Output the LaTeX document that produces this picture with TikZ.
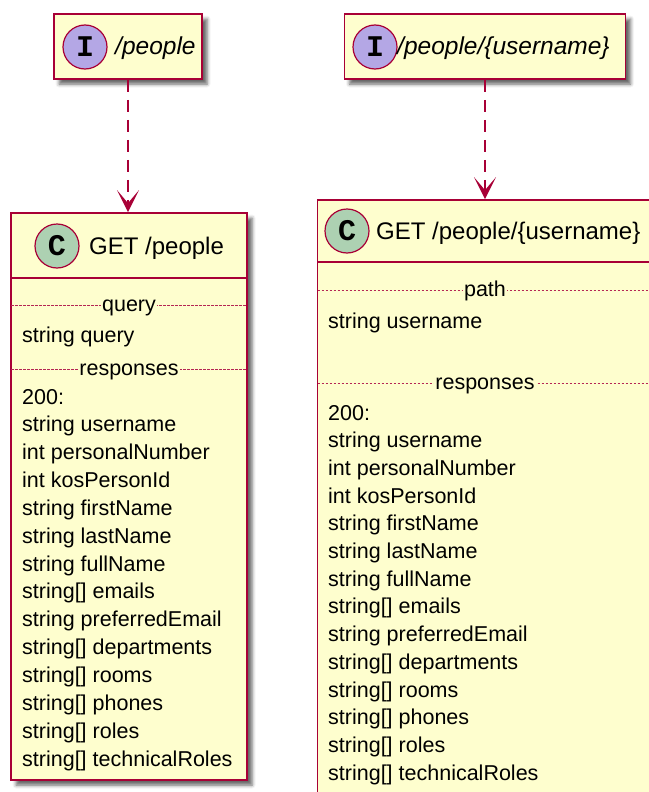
\documentclass[tikz,border=0pt]{standalone}
\usepackage{fontspec}
\setmainfont{Liberation Sans}
\newfontfamily\monob{Liberation Mono}
\usetikzlibrary{arrows.meta,shadows.blur}
\definecolor{pborder}{HTML}{A80036}
\definecolor{pfill}{HTML}{FEFECE}
\definecolor{pint}{HTML}{B4A7E5}
\definecolor{pcls}{HTML}{ADD1B2}
\begin{document}
\begin{tikzpicture}[x=1pt,y=-1pt,
  box/.style={draw=pborder, fill=pfill, line width=1.8pt, rectangle, inner sep=0pt,
    blur shadow={shadow xshift=5pt, shadow yshift=-5pt, shadow blur radius=3.5pt, shadow opacity=60}},
  badge/.style={circle, draw=pborder, line width=1.2pt, minimum size=44pt, inner sep=0pt,
    font=\monob\bfseries\fontsize{30}{30}\selectfont},
  ititle/.style={anchor=base west, inner sep=0pt, font=\itshape\fontsize{24.5}{28}\selectfont},
  ctitle/.style={anchor=base west, inner sep=0pt, font=\fontsize{24}{28}\selectfont},
  fld/.style={anchor=base west, inner sep=0pt, font=\fontsize{21.5}{26}\selectfont},
  seplab/.style={anchor=base, fill=pfill, inner xsep=1.5pt, inner ysep=0pt, font=\fontsize{21.5}{26}\selectfont},
  sepline/.style={draw=pborder!85, line width=0.8pt, dash pattern=on 2.5pt off 1.5pt},
  hline/.style={draw=pborder, line width=1.8pt},
  dep/.style={draw=pborder, line width=1.8pt, dash pattern=on 12pt off 8pt,
    -{Stealth[length=22pt, width=22pt, inset=13pt]}}
]
\useasboundingbox (0,0) rectangle (648,792);

% ---------- left interface ----------
\node[box, minimum width=148pt, minimum height=65pt] (iA) at (128,46.5) {};
\node[badge, fill=pint] (biA) at (85,47) {I};
\node[ititle] (tiA) at (115,55) {/people};

% ---------- right interface ----------
\node[box, minimum width=281pt, minimum height=65pt] (iB) at (485,46.5) {};
\node[badge, fill=pint] (biB) at (375,47) {I};
\node[ititle] (tiB) at (397,55) {/people/\{username\}};

% ---------- left class ----------
\node[box, minimum width=236pt, minimum height=567pt] (cA) at (129,496.5) {};
\node[badge, fill=pcls] (bcA) at (57,246) {C};
\node[ctitle] (tcA) at (89,254) {GET /people};
\draw[hline] (11,278) -- (247,278);
\draw[sepline] (11,305) -- (247,305);
\node[seplab] (sqA) at (129,311) {query};
\node[fld] (qfA) at (22,342) {string query};
\draw[sepline] (11,369) -- (247,369);
\node[seplab] (srA) at (129,375) {responses};
\foreach \t [count=\i] in {200:, string username, int personalNumber, int kosPersonId,
  string firstName, string lastName, string fullName, string[] emails,
  string preferredEmail, string[] departments, string[] rooms, string[] phones,
  string[] roles, string[] technicalRoles}
  \node[fld] (fa\i) at (22,{404+27.85*(\i-1)}) {\t};

% ---------- right class ----------
\node[box, minimum width=335pt, minimum height=597pt] (cB) at (485,498.5) {};
\node[badge, fill=pcls] (bcB) at (347,231) {C};
\node[ctitle] (tcB) at (376,239) {GET /people/\{username\}};
\draw[hline] (317.5,262) -- (652.5,262);
\draw[sepline] (317.5,290) -- (652.5,290);
\node[seplab] (spB) at (485,296) {path};
\node[fld] (ufB) at (328,328) {string username};
\draw[sepline] (317.5,383) -- (652.5,383);
\node[seplab] (srB) at (485,389) {responses};
\foreach \t [count=\i] in {200:, string username, int personalNumber, int kosPersonId,
  string firstName, string lastName, string fullName, string[] emails,
  string preferredEmail, string[] departments, string[] rooms, string[] phones,
  string[] roles, string[] technicalRoles}
  \node[fld] (fb\i) at (328,{420+27.7*(\i-1)}) {\t};

% ---------- connectors ----------
\draw[dep] (iA.south) -- (iA.south |- cA.north);
\draw[dep] (iB.south) -- (iB.south |- cB.north);
\end{tikzpicture}
\end{document}
